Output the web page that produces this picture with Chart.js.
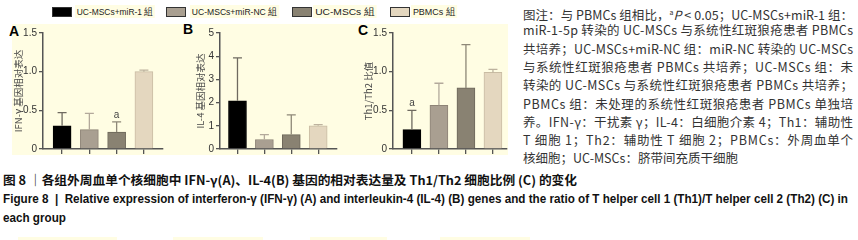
<!DOCTYPE html>
<html>
<head>
<meta charset="utf-8">
<script src="https://cdn.jsdelivr.net/npm/chart.js@4"></script>
<style>
  body { margin: 0; background: #fff; }
  #pagina { position: relative; width: 858px; height: 240px; overflow: hidden; font-family: "Liberation Sans", Arial, sans-serif; }
  .abs { position: absolute; }
  .creme { position: absolute; background: #fffde3; }
  .caixa { position: absolute; top: 7px; width: 18px; height: 8px; border: 1px solid #333; }
  .leg { position: absolute; top: 5px; height: 13px; line-height: 13px; font-size: 9.5px; color: #222; background: #fffde3; padding: 0 2px; white-space: nowrap; transform-origin: left center; }
  .painel { position: absolute; font: bold 14px "Liberation Sans", Arial, sans-serif; line-height: 14px; color: #000; }
  .nota { position: absolute; left: 523px; white-space: nowrap; font-family: "Noto Sans CJK SC", sans-serif; font-size: 12.5px; color: #333; line-height: 18px; }
  .nota sup { font-size: 7px; vertical-align: 5px; }
  .legenda { position: absolute; left: 3px; white-space: nowrap; transform-origin: left center; color: #111; font-weight: bold; }
</style>
</head>
<body>
<div id="pagina">
  <!-- fundo creme dos graficos -->
  <div class="creme" style="left:12px; top:24px; width:496px; height:131px;"></div>

  <div id="legenda-grupos"></div>

  <div class="painel" style="left:9px; top:24px;">A</div>
  <div class="painel" style="left:183px; top:22px;">B</div>
  <div class="painel" style="left:358px; top:23px;">C</div>

  <canvas id="graficoA" class="abs" width="175" height="145" style="left:0px; top:20px;"></canvas>
  <canvas id="graficoB" class="abs" width="170" height="145" style="left:180px; top:20px;"></canvas>
  <canvas id="graficoC" class="abs" width="170" height="145" style="left:350px; top:20px;"></canvas>

  <div id="notas"></div>

  <div id="cap-cn" class="legenda" style="top:171px; font-family:'Noto Sans CJK SC', sans-serif; font-size:12.5px; line-height:18px;">图 8 ｜各组外周血单个核细胞中 IFN-γ(A)、IL-4(B) 基因的相对表达量及 Th1/Th2 细胞比例 (C) 的变化</div>
  <div id="cap-en" class="legenda" style="top:190px; font-family:'Liberation Sans Narrow','Liberation Sans', sans-serif; font-size:13px; line-height:18px;">Figure 8 &nbsp;|&nbsp; Relative expression of interferon-γ (IFN-γ) (A) and interleukin-4 (IL-4) (B) genes and the ratio of T helper cell 1 (Th1)/T helper cell 2 (Th2) (C) in</div>
  <div id="cap-en2" class="legenda" style="top:209px; font-family:'Liberation Sans Narrow','Liberation Sans', sans-serif; font-size:13px; line-height:18px;">each group</div>

  <!-- faixas cortadas no rodape -->
  <div class="creme" style="left:18px; top:237px; width:99px; height:3px;"></div>
  <div class="creme" style="left:173px; top:237px; width:90px; height:3px;"></div>
  <div class="creme" style="left:310px; top:237px; width:77px; height:3px;"></div>
  <div class="creme" style="left:440px; top:237px; width:90px; height:3px;"></div>
</div>

<script>
// Grupos e cores
const grupos = ['UC-MSCs+miR-1 組', 'UC-MSCs+miR-NC 組', 'UC-MSCs 組', 'PBMCs 組'];
const cores = ['#000000', '#a99f91', '#898272', '#e4d7bf'];
const bordas = ['#000000', '#8d8376', '#6d675a', '#c9bca3'];
const coresErro = ['#6f6a60', '#b3a99b', '#8e8878', '#bdb29e'];

// A: IFN-γ
const ifnMedia = [0.30, 0.25, 0.22, 1.00];
const ifnDP = [0.17, 0.21, 0.13, 0.02];
const ifnSig = ['', '', 'a', ''];
const ticksIfn = ['0', '0.5', '1.0', '1.5'];

// B: IL-4
const il4Media = [2.08, 0.41, 0.62, 1.00];
const il4DP = [1.85, 0.21, 0.85, 0.05];
const il4Sig = ['', '', '', ''];
const ticksIl4 = ['0', '1', '2', '3', '4', '5'];

// C: Th1/Th2
const thMedia = [0.25, 0.565, 0.79, 0.99];
const thDP = [0.25, 0.285, 0.56, 0.04];
const thSig = ['a', '', '', ''];
const ticksTh = ['0', '0.5', '1.0', '1.5'];

const notas = [
    '图注：与 PBMCs 组相比，<sup>a</sup><i>P</i> < 0.05；UC-MSCs+miR-1 组：',
    'miR-1-5p 转染的 UC-MSCs 与系统性红斑狼疮患者 PBMCs',
    '共培养；UC-MSCs+miR-NC 组：miR-NC 转染的 UC-MSCs',
    '与系统性红斑狼疮患者 PBMCs 共培养；UC-MSCs 组：未',
    '转染的 UC-MSCs 与系统性红斑狼疮患者 PBMCs 共培养；',
    'PBMCs 组：未处理的系统性红斑狼疮患者 PBMCs 单独培',
    '养。IFN-γ：干扰素 γ；IL-4：白细胞介素 4；Th1：辅助性',
    'T 细胞 1；Th2：辅助性 T 细胞 2；PBMCs：外周血单个',
    '核细胞；UC-MSCs：脐带间充质干细胞'
];

// Legenda no topo: [caixa, texto, largura do texto]
const legendaPos = [[52, 75, 80], [166, 190, 89], [292, 313, 64], [390, 411, 46]];
const legendaDiv = document.getElementById('legenda-grupos');
grupos.forEach((g, i) => {
    const caixa = document.createElement('div');
    caixa.className = 'caixa';
    caixa.style.left = legendaPos[i][0] + 'px';
    caixa.style.background = cores[i];
    legendaDiv.appendChild(caixa);
    const txt = document.createElement('div');
    txt.className = 'leg';
    txt.style.left = legendaPos[i][1] + 'px';
    txt.textContent = g;
    legendaDiv.appendChild(txt);
});

// Notas à direita
const notasDiv = document.getElementById('notas');
notas.forEach((linha, i) => {
    const d = document.createElement('div');
    d.className = 'nota';
    d.style.top = (3 + i * 18.3) + 'px';
    d.innerHTML = linha;
    notasDiv.appendChild(d);
});

// Barras de erro e letras de significância
const barrasErro = {
    id: 'barrasErro',
    afterDatasetsDraw(chart) {
        const ctx = chart.ctx;
        const ds = chart.data.datasets[0];
        const y = chart.scales.y;
        chart.getDatasetMeta(0).data.forEach((bar, i) => {
            const topo = y.getPixelForValue(ds.data[i].y + ds.erro[i]);
            ctx.save();
            ctx.strokeStyle = coresErro[i];
            ctx.lineWidth = 1.3;
            ctx.beginPath();
            ctx.moveTo(bar.x, bar.y);
            ctx.lineTo(bar.x, topo);
            ctx.moveTo(bar.x - 4.5, topo);
            ctx.lineTo(bar.x + 4.5, topo);
            ctx.stroke();
            if (ds.sig[i]) {
                ctx.fillStyle = '#444';
                ctx.font = '10px "Liberation Sans", Arial';
                ctx.textAlign = 'center';
                ctx.fillText(ds.sig[i], bar.x, topo - 4);
            }
            ctx.restore();
        });
    }
};

function criarGrafico(id, media, dp, sig, ticksY, titulo, cfg) {
    const yMax = parseFloat(ticksY[ticksY.length - 1]);
    return new Chart(document.getElementById(id), {
        type: 'bar',
        data: {
            datasets: [{
                data: media.map((v, i) => ({ x: i, y: v })),
                erro: dp,
                sig: sig,
                backgroundColor: cores,
                borderColor: bordas,
                borderWidth: 1,
                barThickness: 18
            }]
        },
        options: {
            responsive: false,
            animation: false,
            layout: { padding: { left: 0, right: cfg.direita, top: 13, bottom: 0 } },
            plugins: { legend: { display: false }, tooltip: { enabled: false } },
            scales: {
                x: {
                    type: 'linear',
                    min: cfg.xMin,
                    max: cfg.xMax,
                    offset: false,
                    afterBuildTicks: s => { s.ticks = grupos.map((g, i) => ({ value: i })); },
                    afterFit: s => { s.height = 16; },
                    ticks: { callback: () => '', autoSkip: false },
                    grid: { drawOnChartArea: false, offset: false, tickLength: 5, color: '#555', lineWidth: 1.3 },
                    border: { color: '#555', width: 1.5 }
                },
                y: {
                    min: 0,
                    max: yMax,
                    afterBuildTicks: s => { s.ticks = ticksY.map(t => ({ value: parseFloat(t) })); },
                    afterFit: s => { s.width = cfg.eixo; },
                    ticks: {
                        callback: (v, i) => ticksY[i],
                        font: { size: 10, family: '"Liberation Sans", Arial' },
                        color: '#333',
                        padding: 2
                    },
                    grid: { drawOnChartArea: false, tickLength: 4, color: '#555', lineWidth: 1.3 },
                    border: { color: '#555', width: 1.5 },
                    title: {
                        display: true,
                        text: titulo,
                        color: '#4a4a4a',
                        font: { size: 9.5, family: '"Noto Sans CJK SC", sans-serif' },
                        padding: { top: cfg.tituloPad, bottom: 0 }
                    }
                }
            }
        },
        plugins: [barrasErro]
    });
}

function ajustar() {
    // textos da legenda com a largura do original
    document.querySelectorAll('.leg').forEach((el, i) => {
        el.style.transform = `scaleX(${legendaPos[i][2] / el.getBoundingClientRect().width})`;
    });

    // legendas ajustadas à largura do original
    const cn = document.getElementById('cap-cn');
    cn.style.transform = `scaleX(${574 / cn.getBoundingClientRect().width})`;
    const en = document.getElementById('cap-en');
    const fator = 845 / en.getBoundingClientRect().width;
    en.style.transform = `scaleX(${fator})`;
    document.getElementById('cap-en2').style.transform = `scaleX(${fator})`;

    // justificar as linhas das notas (menos a ultima)
    const linhas = document.querySelectorAll('.nota');
    linhas.forEach((el, i) => {
        if (i === linhas.length - 1) return;
        const w = el.getBoundingClientRect().width;
        const n = el.textContent.length;
        el.style.letterSpacing = ((330 - w) / (n - 1)) + 'px';
    });

    criarGrafico('graficoA', ifnMedia, ifnDP, ifnSig, ticksIfn, 'IFN-γ 基因相对表达',
        { eixo: 43, direita: 12, xMin: -0.7, xMax: 3.7, tituloPad: 12.3 });
    criarGrafico('graficoB', il4Media, il4DP, il4Sig, ticksIl4, 'IL-4 基因相对表达',
        { eixo: 40, direita: 13, xMin: -0.65, xMax: 3.7, tituloPad: 14.3 });
    criarGrafico('graficoC', thMedia, thDP, thSig, ticksTh, 'Th1/Th2 比值',
        { eixo: 43, direita: 13, xMin: -0.7, xMax: 3.52, tituloPad: 12.3 });
}

document.fonts.ready.then(ajustar);
</script>
</body>
</html>
